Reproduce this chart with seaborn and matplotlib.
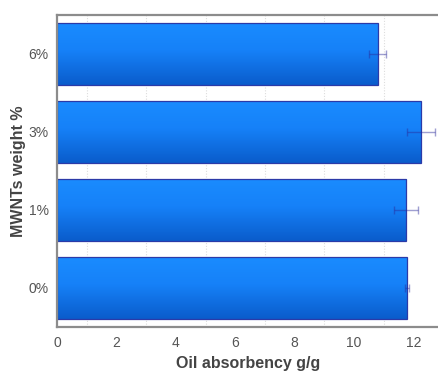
import numpy as np
import pandas as pd
import matplotlib
matplotlib.use("Agg")
import matplotlib.pyplot as plt
from matplotlib.colors import LinearSegmentedColormap
import seaborn as sns

# MWNT loading levels (top to bottom) and measured oil absorbency
categories = ["6%", "3%", "1%", "0%"]
absorbency = [10.80, 12.25, 11.75, 11.78]
errors = [0.28, 0.47, 0.39, 0.07]

df = pd.DataFrame({"weight": categories, "absorbency": absorbency})

sns.set_theme(style="white")
plt.rcParams["font.family"] = ["Liberation Sans", "DejaVu Sans"]

fig = plt.figure(figsize=(4.39, 3.71), dpi=100)
ax = fig.add_axes([0.1298, 0.1194, 0.8702, 0.8402])

sns.barplot(data=df, x="absorbency", y="weight", order=categories,
            orient="h", width=0.8, errorbar=None, ax=ax,
            color="#1a88ff", edgecolor="#2b3aa8", linewidth=0.9)

# vertical gradient fill inside every bar
grad_cmap = LinearSegmentedColormap.from_list(
    "bar_grad", [(0.0, "#1a8cff"), (0.45, "#1681f8"), (1.0, "#0a5ccb")])
grad = np.linspace(0, 1, 256).reshape(-1, 1)
for patch in list(ax.patches):
    x0, y0 = patch.get_x(), patch.get_y()
    w, h = patch.get_width(), patch.get_height()
    im = ax.imshow(grad, cmap=grad_cmap, aspect="auto", origin="upper",
                   extent=(x0, x0 + w, y0 + h, y0), zorder=patch.get_zorder() - 0.1,
                   interpolation="bilinear")
    im.set_clip_path(patch)
    patch.set_facecolor("none")

# error bars
yvals = np.arange(len(categories))
ax.errorbar(absorbency, yvals, xerr=errors, fmt="none",
            ecolor="#2a2a9a", alpha=0.45, elinewidth=1.0,
            capsize=3, capthick=1.0, zorder=5)

ax.set_xlim(0, 12.86)
ax.set_ylim(3.5, -0.5)

# faint dotted grid at odd values
for xv in [1, 3, 5, 7, 9, 11]:
    ax.axvline(xv, color="#dddddd", linestyle=(0, (1, 1.5)), linewidth=0.8, zorder=0)

ax.set_xticks([0, 2, 4, 6, 8, 10, 12])
ax.tick_params(axis="both", length=0, labelsize=10, labelcolor="#555555", pad=7)
ax.tick_params(axis="y", pad=6)

for side in ["left", "bottom", "top"]:
    ax.spines[side].set_color("#8c8c8c")
    ax.spines[side].set_linewidth(1.6)
ax.spines["right"].set_visible(False)

ax.set_xlabel("Oil absorbency g/g", fontsize=11.5, fontweight="bold",
              color="#444444", labelpad=4)
ax.set_ylabel("MWNTs weight %", fontsize=11.5, fontweight="bold",
              color="#444444", labelpad=2)

fig.savefig("out.png", dpi=100)
